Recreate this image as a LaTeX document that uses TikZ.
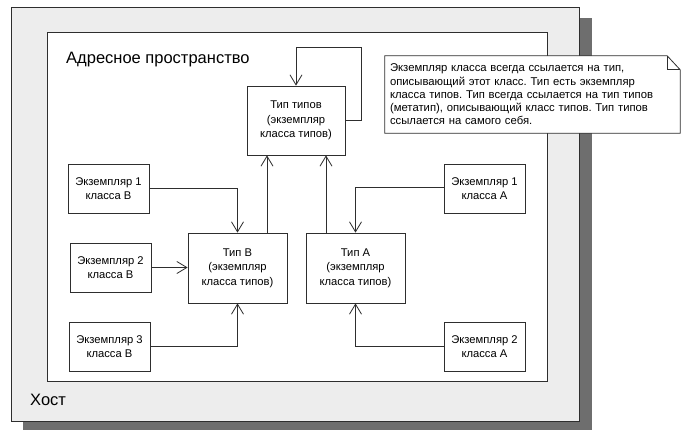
\documentclass[tikz,border=0pt]{standalone}
\usepackage{fontspec}
\setmainfont{Liberation Sans}
\usetikzlibrary{arrows.meta}
\definecolor{hostfill}{HTML}{EDEDED}
\definecolor{shadowc}{HTML}{6E6E6E}
\definecolor{linec}{HTML}{2E2E2E}
\frenchspacing
\begin{document}
\begin{tikzpicture}[x=1pt,y=-1pt,
  hostbox/.style={draw=linec, fill=hostfill, line width=0.9pt, inner sep=0pt},
  spacebox/.style={draw=linec, fill=white, line width=0.9pt, inner sep=0pt},
  box/.style={draw=linec, fill=white, line width=0.8pt, align=center,
    font=\fontsize{11.2}{14.5}\selectfont, inner sep=0pt},
  conn/.style={draw=linec, line width=0.8pt, -{Straight Barb[length=10pt,width=12pt]}},
  line/.style={draw=linec, line width=0.8pt},
  bigtext/.style={font=\fontsize{16.5}{18}\selectfont, inner sep=0pt},
  notetext/.style={font=\fontsize{11.3}{13.3}\selectfont, align=left, text width=285pt,
    inner xsep=5pt, inner ysep=0pt, minimum height=77pt}
]
\useasboundingbox (0,0) rectangle (685,430);
% host shadow and host
\fill[shadowc] (23,18) rectangle (592,430);
\node[hostbox, minimum width=568pt, minimum height=414pt] (host) at (295,214) {};
\node[bigtext, anchor=west] (hostlbl) at (30,400) {Хост};
% address space
\node[spacebox, minimum width=500pt, minimum height=349pt] (space) at (297,206.5) {};
\node[bigtext, anchor=west] (spacelbl) at (66,60) {Адресное пространство};
% type of types
\node[box, minimum width=98pt, minimum height=69pt] (tt) at (296,120.5)
  {Тип типов\\(экземпляр\\класса типов)};
% type B, type A
\node[box, minimum width=99pt, minimum height=70pt] (tb) at (237.5,268)
  {Тип B\\(экземпляр\\класса типов)};
\node[box, minimum width=99pt, minimum height=70pt] (ta) at (355.5,268)
  {Тип A\\(экземпляр\\класса типов)};
% instances B
\node[box, minimum width=81pt, minimum height=49pt] (e1b) at (108.5,188.5)
  {Экземпляр 1\\класса B};
\node[box, minimum width=81pt, minimum height=49pt] (e2b) at (110.5,267.5)
  {Экземпляр 2\\класса B};
\node[box, minimum width=81pt, minimum height=49pt] (e3b) at (109.5,346.5)
  {Экземпляр 3\\класса B};
% instances A
\node[box, minimum width=81pt, minimum height=49pt] (e1a) at (484.5,188.5)
  {Экземпляр 1\\класса A};
\node[box, minimum width=81pt, minimum height=49pt] (e2a) at (484.5,346.5)
  {Экземпляр 2\\класса A};
% note
\node[notetext] (note) at (532.5,94.5) {};
\coordinate (foldA) at ([xshift=-13pt]note.north east);
\coordinate (foldB) at ([yshift=-14pt]note.north east);
\draw[line, fill=white] (note.north west) -- (foldA) -- (foldB) -- (note.south east)
  -- (note.south west) -- cycle;
\draw[line] (foldA) -- (foldA |- foldB) -- (foldB);
\node[notetext] (notetxt) at (note) {Экземпляр класса всегда ссылается на тип,\\
   описывающий этот класс. Тип есть экземпляр\\
   класса типов. Тип всегда ссылается на тип типов\\
   (метатип), описывающий класс типов. Тип типов\\
   ссылается на самого себя.};
% connectors
\coordinate (loopR) at (361,47);
\coordinate (loopL) at (296,47);
\draw[conn] (tt.east) -| (loopR) -- (loopL) -- (tt.north);
\draw[conn] ([xshift=29.5pt]tb.north) -- ([xshift=29.5pt]tb.north |- tt.south);
\draw[conn] ([xshift=-29.5pt]ta.north) -- ([xshift=-29.5pt]ta.north |- tt.south);
\draw[conn] (e1b.east) -| (tb.north);
\draw[conn] (e2b.east) -- (e2b.east -| tb.west);
\draw[conn] (e3b.east) -| (tb.south);
\draw[conn] ([yshift=1.5pt]e1a.west) -| (ta.north);
\draw[conn] (e2a.west) -| (ta.south);
\end{tikzpicture}
\end{document}
